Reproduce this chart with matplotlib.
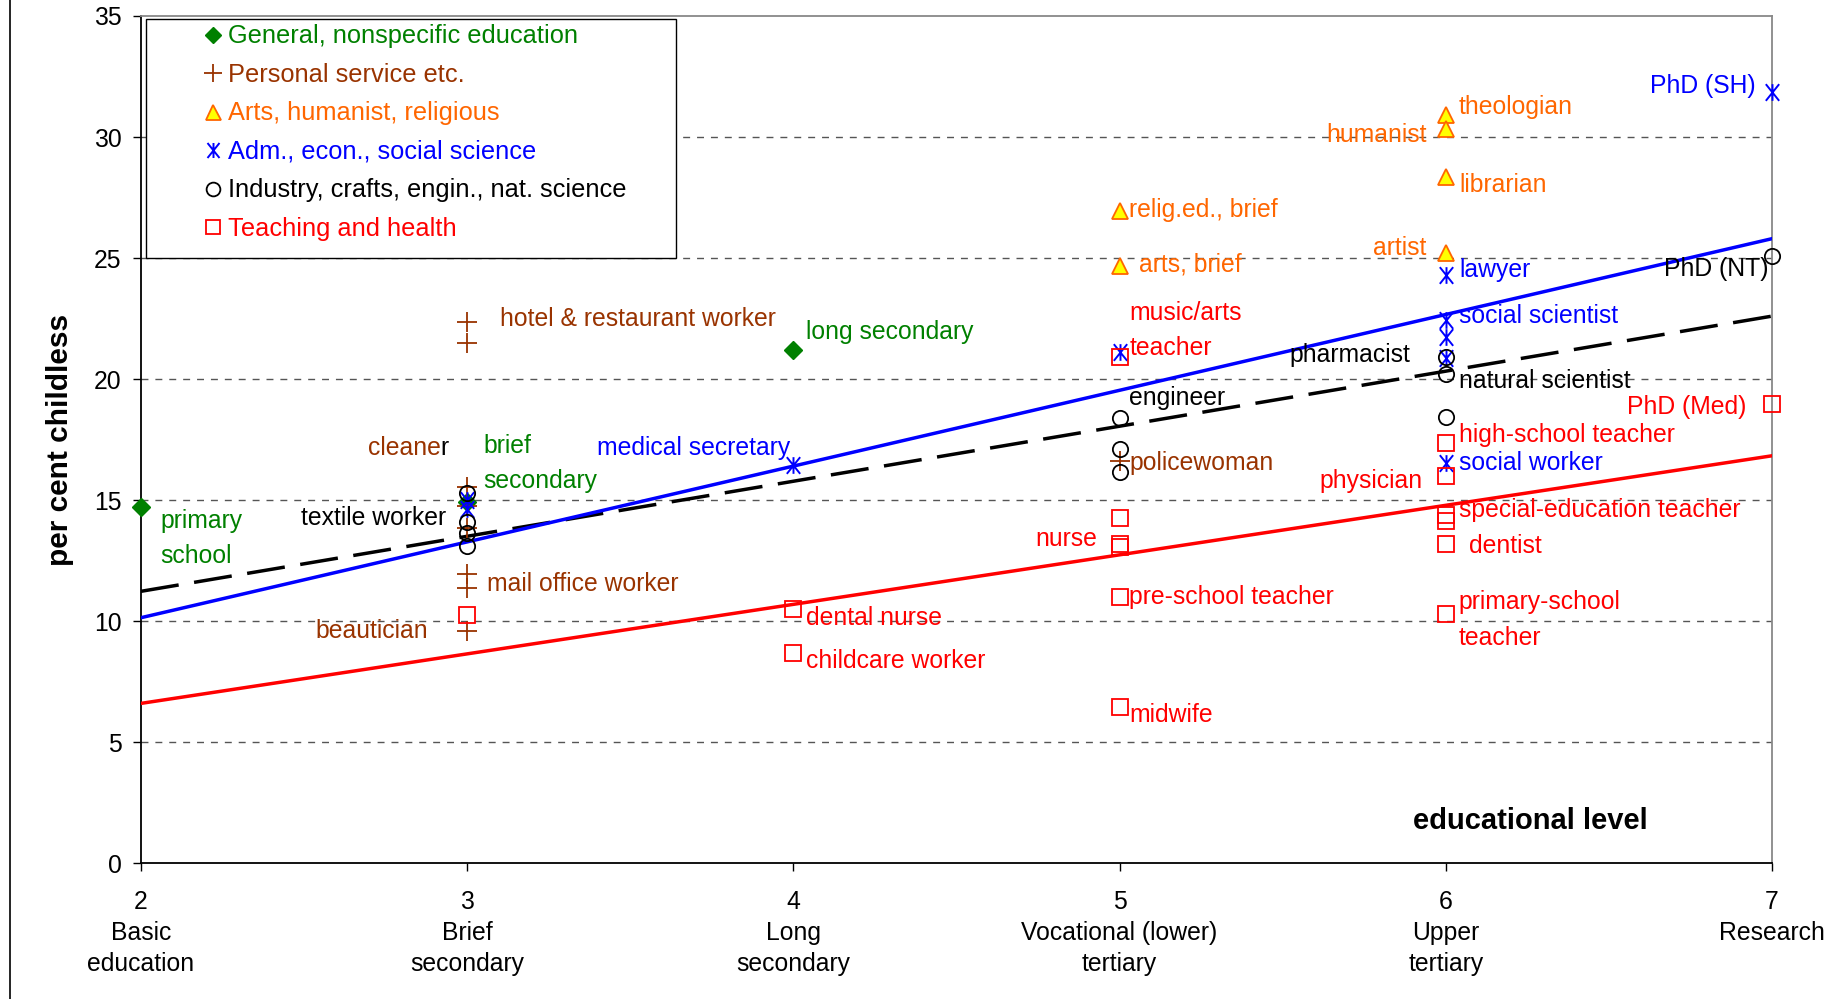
import matplotlib
matplotlib.use('Agg')
import matplotlib.pyplot as plt
from matplotlib.path import Path
from matplotlib.patches import Rectangle
from matplotlib.lines import Line2D

plt.rcParams['font.family'] = ['Liberation Sans', 'DejaVu Sans']

# educational levels
levels = [2, 3, 4, 5, 6, 7]
level_names = ['2\nBasic\neducation', '3\nBrief\nsecondary', '4\nLong\nsecondary',
               '5\nVocational (lower)\ntertiary', '6\nUpper\ntertiary', '7\nResearch']

# per cent childless by field
general_x = [2, 3, 4]
general_y = [14.7, 14.9, 21.2]
personal_x = [3, 3, 3, 3, 3, 3, 3, 3, 5]
personal_y = [22.35, 21.5, 15.55, 14.75, 13.85, 11.95, 11.35, 9.6, 16.6]
arts_x = [5, 5, 6, 6, 6, 6]
arts_y = [26.95, 24.65, 30.9, 30.35, 28.35, 25.2]
adm_x = [3, 3, 4, 5, 6, 6, 6, 6, 6, 7]
adm_y = [15.0, 14.65, 16.45, 21.1, 24.3, 22.45, 21.75, 20.85, 16.55, 31.85]
industry_x = [3, 3, 3, 3, 5, 5, 5, 6, 6, 6, 7]
industry_y = [15.3, 14.1, 13.65, 13.1, 18.4, 17.1, 16.15, 20.9, 20.2, 18.45, 25.1]
teaching_x = [3, 4, 4, 5, 5, 5, 5, 5, 5, 6, 6, 6, 6, 6, 6, 7]
teaching_y = [10.25, 10.5, 8.7, 20.9, 14.25, 13.2, 13.05, 11.0, 6.45,
              17.35, 16.0, 14.4, 14.15, 13.2, 10.3, 18.95]

# fitted lines (end points)
trend_x = [2, 7]
trend_adm = [10.14, 25.8]
trend_all = [11.23, 22.6]
trend_teach = [6.6, 16.83]

GREEN = '#008000'
BROWN = '#993300'
ORANGE = '#FF6600'
BLUE = '#0000FF'
RED = '#FF0000'

# labels: x, y, text, colour, alignment
notes = [
    (2.06, 13.4, 'primary\nschool', GREEN, 'left'),
    (3.05, 16.5, 'brief\nsecondary', GREEN, 'left'),
    (4.04, 21.95, 'long secondary', GREEN, 'left'),
    (3.10, 22.5, 'hotel & restaurant worker', BROWN, 'left'),
    (2.935, 14.26, 'textile worker', 'black', 'right'),
    (3.06, 11.54, 'mail office worker', BROWN, 'left'),
    (2.88, 9.6, 'beautician', BROWN, 'right'),
    (3.99, 17.14, 'medical secretary', BLUE, 'right'),
    (4.04, 10.13, 'dental nurse', RED, 'left'),
    (4.04, 8.37, 'childcare worker', RED, 'left'),
    (5.03, 27.0, 'relig.ed., brief', ORANGE, 'left'),
    (5.06, 24.73, 'arts, brief', ORANGE, 'left'),
    (5.03, 22.0, 'music/arts\nteacher', RED, 'left'),
    (5.03, 19.2, 'engineer', 'black', 'left'),
    (5.03, 16.55, 'policewoman', BROWN, 'left'),
    (4.93, 13.4, 'nurse', RED, 'right'),
    (5.03, 11.0, 'pre-school teacher', RED, 'left'),
    (5.03, 6.13, 'midwife', RED, 'left'),
    (5.94, 30.1, 'humanist', ORANGE, 'right'),
    (6.04, 31.26, 'theologian', ORANGE, 'left'),
    (6.04, 28.0, 'librarian', ORANGE, 'left'),
    (5.94, 25.4, 'artist', ORANGE, 'right'),
    (6.04, 24.5, 'lawyer', BLUE, 'left'),
    (6.04, 22.6, 'social scientist', BLUE, 'left'),
    (5.89, 21.0, 'pharmacist', 'black', 'right'),
    (6.04, 19.9, 'natural scientist', 'black', 'left'),
    (6.04, 17.67, 'high-school teacher', RED, 'left'),
    (6.04, 16.55, 'social worker', BLUE, 'left'),
    (5.93, 15.77, 'physician', RED, 'right'),
    (6.04, 14.6, 'special-education teacher', RED, 'left'),
    (6.07, 13.1, 'dentist', RED, 'left'),
    (6.04, 10.05, 'primary-school\nteacher', RED, 'left'),
    (6.95, 32.1, 'PhD (SH)', BLUE, 'right'),
    (6.99, 24.54, 'PhD (NT)', 'black', 'right'),
    (6.92, 18.84, 'PhD (Med)', RED, 'right'),
]

# excel-like asterisk: an X with a vertical bar
star = Path([(-0.8, -1), (0.8, 1), (-0.8, 1), (0.8, -1), (0, -1), (0, 1)],
            [Path.MOVETO, Path.LINETO] * 3)

fig = plt.figure(figsize=(18.43, 9.99), dpi=100)
ax = fig.add_axes([0.0765, 0.136, 0.885, 0.848])

ax.plot(trend_x, trend_all, color='black', lw=2.5, dashes=(11, 4.5), zorder=3)
ax.plot(trend_x, trend_adm, color=BLUE, lw=2.5, zorder=3)
ax.plot(trend_x, trend_teach, color=RED, lw=2.5, zorder=3)

series = [
    (general_x, general_y, dict(marker='D', color=GREEN, ms=9, ls='none'),
     'General, nonspecific education', GREEN),
    (personal_x, personal_y, dict(marker='+', color=BROWN, ms=15, mew=1.3, ls='none'),
     'Personal service etc.', BROWN),
    (arts_x, arts_y, dict(marker='^', mfc='#FFFF00', mec=ORANGE, ms=12, mew=1.3, ls='none'),
     'Arts, humanist, religious', ORANGE),
    (adm_x, adm_y, dict(marker=star, color=BLUE, ms=12, mew=1.4, ls='none'),
     'Adm., econ., social science', BLUE),
    (industry_x, industry_y, dict(marker='o', mfc='none', mec='black', ms=11, mew=1.3, ls='none'),
     'Industry, crafts, engin., nat. science', 'black'),
    (teaching_x, teaching_y, dict(marker='s', mfc='none', mec=RED, ms=11, mew=1.3, ls='none'),
     'Teaching and health', RED),
]
handles = []
for xs, ys, style, name, col in series:
    ax.plot(xs, ys, zorder=4, clip_on=False, **style)
    small = dict(style)
    small['ms'] = style['ms'] * 0.9
    handles.append(Line2D([], [], label=name, **small))

fs = 17.8
for x, y, txt, col, ha in notes:
    ax.text(x, y, txt, color=col, ha=ha, va='center', fontsize=fs, zorder=5,
            linespacing=1.6)
# "cleaner" - last letter shows black in the original
cl = ax.text(2.695, 17.14, 'cleane', color=BROWN, ha='left', va='center', fontsize=fs, zorder=5)
ax.annotate('r', xy=(1, 0), xycoords=cl, ha='left', va='bottom', color='black',
            fontsize=fs, zorder=5)

ax.text(6.26, 1.75, 'educational level', ha='center', va='center',
        fontsize=21, fontweight='bold')

# legend box
ax.add_patch(Rectangle((0.003, 25 / 35), 0.325, 1 - 25 / 35 - 0.003, transform=ax.transAxes,
                       facecolor='white', edgecolor='black', lw=1.0, zorder=2))
leg = ax.legend(handles=handles, loc='upper left', bbox_to_anchor=(0.03, 1.008),
                frameon=False, fontsize=18.3, handlelength=0.6, handletextpad=0.3,
                labelspacing=0.57, borderaxespad=0.2,
                labelcolor=[s[4] for s in series])
leg.set_zorder(7)

ax.set_xlim(2, 7)
ax.set_ylim(0, 35)
ax.set_yticks(range(0, 36, 5))
ax.set_xticks(levels)
ax.set_xticklabels(level_names, linespacing=1.38)
ax.tick_params(axis='both', labelsize=fs, direction='out', length=6, width=1)
ax.tick_params(axis='x', pad=13)
ax.tick_params(axis='y', pad=8)
for v in range(5, 35, 5):
    ax.axhline(v, color='#555555', lw=1.0, dashes=(5, 5), zorder=1)

ax.spines['left'].set_color('black')
ax.spines['bottom'].set_color('black')
ax.spines['top'].set_color('#888888')
ax.spines['right'].set_color('#888888')
for s in ax.spines.values():
    s.set_linewidth(1.3)

ax.set_ylabel('per cent childless', fontsize=21.5, fontweight='bold', labelpad=14)

# chart area border on the left
fig.add_artist(Line2D([0.0055, 0.0055], [0, 1], transform=fig.transFigure, color='black', lw=1.2))

plt.savefig('out.png', dpi=100)
